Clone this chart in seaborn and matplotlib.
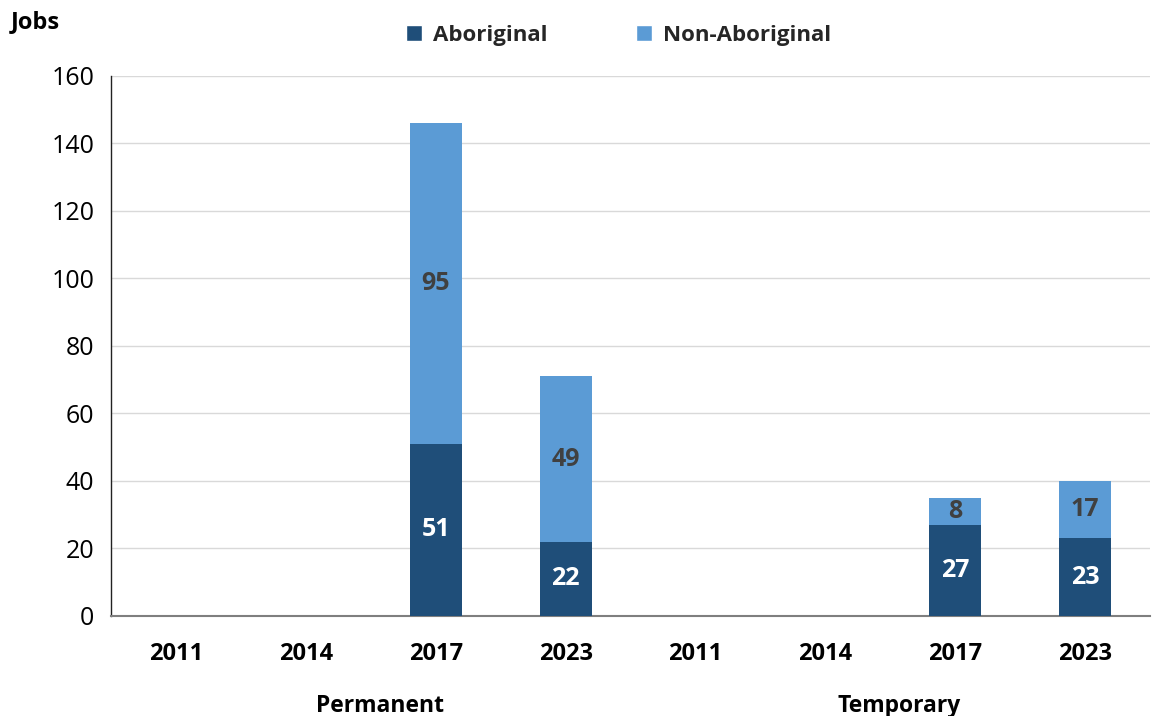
import matplotlib
matplotlib.use("Agg")
import matplotlib.pyplot as plt
from matplotlib.patches import Patch
import matplotlib.transforms as mtransforms
import seaborn as sns
import pandas as pd

# datos
job_type = ["Permanent"] * 4 + ["Temporary"] * 4
years = ["2011", "2014", "2017", "2023"] * 2
aboriginal = [0, 0, 51, 22, 0, 0, 27, 23]
non_aboriginal = [0, 0, 95, 49, 0, 0, 8, 17]

DARK = "#1F4E79"
LIGHT = "#5B9BD5"

df = pd.DataFrame({"type": job_type, "year": years,
                   "aboriginal": aboriginal, "non_aboriginal": non_aboriginal})
df["key"] = df["type"] + " " + df["year"]
df["total"] = df["aboriginal"] + df["non_aboriginal"]

sns.set_theme(style="white")
plt.rcParams["font.family"] = ["Open Sans", "DejaVu Sans"]

fig = plt.figure(figsize=(11.52, 7.16), dpi=100)
ax = fig.add_axes([0.0964, 0.1397, 0.902, 0.7542])

# Barras apiladas: total primero, luego aborigen encima
sns.barplot(data=df, x="key", y="total", color=LIGHT, saturation=1,
            width=0.4, linewidth=0, ax=ax, zorder=3)
sns.barplot(data=df, x="key", y="aboriginal", color=DARK, saturation=1,
            width=0.4, linewidth=0, ax=ax, zorder=3)

# Etiquetas
for i, row in df.iterrows():
    if row["aboriginal"] > 0:
        ax.text(i, row["aboriginal"] / 2, str(row["aboriginal"]), ha="center",
                va="center", color="white", fontsize=18, fontweight="bold", zorder=4)
    if row["non_aboriginal"] > 0:
        ax.text(i, row["aboriginal"] + row["non_aboriginal"] / 2,
                str(row["non_aboriginal"]), ha="center", va="center",
                color="#404040", fontsize=18, fontweight="bold", zorder=4)

ax.set_xlim(-0.5, 7.5)
ax.set_ylim(0, 160)
ax.set_yticks(range(0, 161, 20))
ax.yaxis.grid(True, color="#d9d9d9", linewidth=1, zorder=0)
ax.set_axisbelow(True)
ax.set_xticks(range(len(df)))
ax.set_xticklabels(df["year"], fontsize=17, fontweight="bold", color="black")
ax.tick_params(axis="x", length=0, pad=19)
ax.tick_params(axis="y", length=0, labelsize=18, labelcolor="black", pad=12)
ax.set_xlabel("")
ax.set_ylabel("")
for s in ["top", "right"]:
    ax.spines[s].set_visible(False)
ax.spines["left"].set_color("#222222")
ax.spines["left"].set_linewidth(1)
ax.spines["bottom"].set_color("#7f7f7f")
ax.spines["bottom"].set_linewidth(1.5)

# Etiquetas de grupo
trans = mtransforms.blended_transform_factory(ax.transData, ax.transAxes)
for t in ["Permanent", "Temporary"]:
    idx = df.index[df["type"] == t]
    ax.text(idx.values.mean() + 0.07, -0.166, t, transform=trans, ha="center",
            va="center", fontsize=16.5, fontweight="bold", color="black")

fig.text(0.009, 0.969, "Jobs", ha="left", va="center", fontsize=17,
         fontweight="bold", color="black")

handles = [Patch(facecolor=DARK, label="Aboriginal"),
           Patch(facecolor=LIGHT, label="Non-Aboriginal")]
leg = fig.legend(handles=handles, loc="center", bbox_to_anchor=(0.537, 0.951),
                 ncol=2, frameon=False, handlelength=0.7, handleheight=0.7,
                 handletextpad=0.5, columnspacing=4.0,
                 prop={"size": 16, "weight": "bold"})

fig.savefig("out.png", dpi=100)
